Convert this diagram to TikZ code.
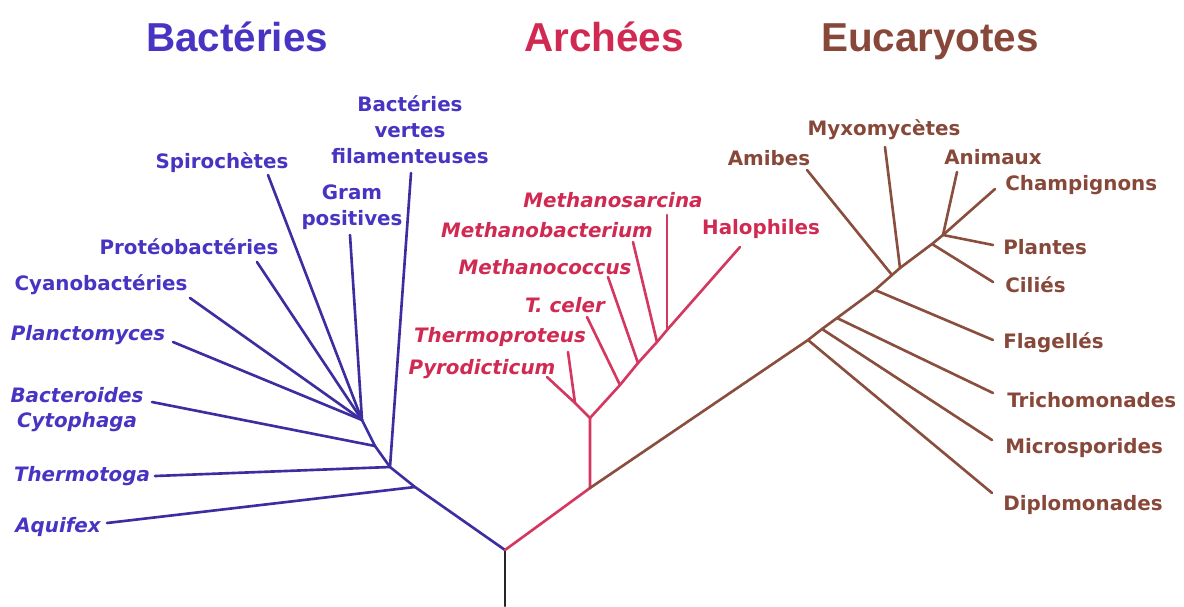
\documentclass[tikz,border=0pt]{standalone}
\usepackage{fontspec}
\setmainfont{DejaVu Sans}
\newfontfamily\titlefont{Liberation Sans}
\usetikzlibrary{calc}
\definecolor{bacText}{RGB}{72,52,195}
\definecolor{bacLine}{RGB}{60,46,160}
\definecolor{arcText}{RGB}{208,42,82}
\definecolor{arcLine}{RGB}{212,55,95}
\definecolor{eukText}{RGB}{135,72,58}
\definecolor{eukLine}{RGB}{138,78,62}
\tikzset{
  treefig/.style={x=0.02cm, y=-0.02cm, line cap=round, line join=round},
  title/.style={font=\titlefont\bfseries\fontsize{23}{26}\selectfont, anchor=base},
  lab/.style={font=\bfseries\fontsize{11.3}{14.7}\selectfont, inner sep=0pt, align=center},
  itlab/.style={lab, font=\bfseries\itshape\fontsize{11.3}{14.2}\selectfont},
  bac/.style={draw=bacLine, line width=1.5pt},
  arc/.style={draw=arcLine, line width=1.5pt},
  euk/.style={draw=eukLine, line width=1.5pt},
}

\begin{document}
\begin{tikzpicture}[treefig]
  \useasboundingbox (0,0) rectangle (1184,606);

  % ----- domain titles -----
  \node[title, text=bacText] (tBac) at (237,51) {Bactéries};
  \node[title, text=arcText] (tArc) at (604,51) {Archées};
  \node[title, text=eukText] (tEuk) at (930,51) {Eucaryotes};

  % ----- root -----
  \coordinate (root) at (505,550);
  \coordinate (base) at (505,606);
  \draw[line width=1.5pt, black!85] (base) -- (root);

  % ----- bacteria: junctions and tips -----
  \coordinate (bA) at (415,487);
  \coordinate (bB) at (390,467);
  \coordinate (bC) at (375,446);
  \coordinate (bD) at (362,420);
  \coordinate (pVer) at (411,173);
  \coordinate (pGram) at (350,235);
  \coordinate (pSpi) at (268,175);
  \coordinate (pPro) at (257,262);
  \coordinate (pCya) at (190,298);
  \coordinate (pPla) at (173,342);
  \coordinate (pBct) at (152,402);
  \coordinate (pThg) at (155,476);
  \coordinate (pAqu) at (107,523);

  \draw[bac] (root) -- (bA) -- (bB) -- (bC) -- (bD);
  \draw[bac] (bA) -- (pAqu);
  \draw[bac] (bB) -- (pThg);
  \draw[bac] (bB) -- (pVer);
  \draw[bac] (bC) -- (pBct);
  \foreach \tip in {pGram, pSpi, pPro, pCya, pPla}
    \draw[bac] (bD) -- (\tip);

  \node[lab, text=bacText] (lVer) at (410,130) {Bactéries\\vertes\\filamenteuses};
  \node[lab, text=bacText] (lGram) at (352,207) {Gram\\positives};
  \node[lab, text=bacText] (lSpi) at (222,163) {Spirochètes};
  \node[lab, text=bacText] (lPro) at (189,247) {Protéobactéries};
  \node[lab, text=bacText] (lCya) at (101,285) {Cyanobactéries};
  \node[itlab, text=bacText] (lPla) at (88,335) {Planctomyces};
  \node[itlab, text=bacText] (lBct) at (77,410) {Bacteroides\\Cytophaga};
  \node[itlab, text=bacText] (lThg) at (82,476) {Thermotoga};
  \node[itlab, text=bacText] (lAqu) at (58,527) {Aquifex};

  % ----- archaea: junctions and tips -----
  \coordinate (aR) at (590,488);
  \coordinate (aA) at (590,418);
  \coordinate (aB) at (575,403);
  \coordinate (aC) at (620,385);
  \coordinate (aD) at (638,363);
  \coordinate (aE) at (657,342);
  \coordinate (aF) at (667,330);
  \coordinate (pPyr) at (547,377);
  \coordinate (pTpr) at (568,352);
  \coordinate (pTce) at (587,317);
  \coordinate (pMco) at (608,277);
  \coordinate (pMba) at (633,242);
  \coordinate (pMsa) at (667,215);
  \coordinate (pHal) at (740,247);

  \draw[arc] (root) -- (aR) -- (aA) -- (aB) -- (pPyr);
  \draw[arc] (aB) -- (pTpr);
  \draw[arc] (aA) -- (aC) -- (aD) -- (aE) -- (aF) -- (pHal);
  \draw[arc] (aC) -- (pTce);
  \draw[arc] (aD) -- (pMco);
  \draw[arc] (aE) -- (pMba);
  \draw[arc] (aF) -- (pMsa);

  \node[itlab, text=arcText] (lMsa) at (613,200) {Methanosarcina};
  \node[itlab, text=arcText] (lMba) at (547,230) {Methanobacterium};
  \node[itlab, text=arcText] (lMco) at (545,267) {Methanococcus};
  \node[itlab, text=arcText] (lTce) at (565,305) {T. celer};
  \node[itlab, text=arcText] (lTpr) at (500,337) {Thermoproteus};
  \node[itlab, text=arcText] (lPyr) at (482,369) {Pyrodicticum};
  \node[lab, text=arcText] (lHal) at (761,229) {Halophiles};

  % ----- eukaryotes: junctions and tips -----
  \coordinate (e1) at (808,340);
  \coordinate (e2) at (822,329);
  \coordinate (e3) at (837,318);
  \coordinate (e4) at (875,290);
  \coordinate (e5) at (892,275);
  \coordinate (e6) at (900,268);
  \coordinate (e7) at (932,244);
  \coordinate (e8) at (943,235);
  \coordinate (pDip) at (992,493);
  \coordinate (pMic) at (992,440);
  \coordinate (pTri) at (993,393);
  \coordinate (pFla) at (993,340);
  \coordinate (pAmi) at (807,170);
  \coordinate (pMyx) at (885,147);
  \coordinate (pCil) at (993,282);
  \coordinate (pPla2) at (993,245);
  \coordinate (pAni) at (957,172);
  \coordinate (pCha) at (995,189);

  \draw[euk] (aR) -- (e1) -- (e2) -- (e3) -- (e4) -- (e5) -- (e6) -- (e7) -- (e8) -- (pCha);
  \draw[euk] (e1) -- (pDip);
  \draw[euk] (e2) -- (pMic);
  \draw[euk] (e3) -- (pTri);
  \draw[euk] (e4) -- (pFla);
  \draw[euk] (e5) -- (pAmi);
  \draw[euk] (e6) -- (pMyx);
  \draw[euk] (e7) -- (pCil);
  \draw[euk] (e8) -- (pPla2);
  \draw[euk] (e8) -- (pAni);

  \node[lab, text=eukText] (lAmi) at (769,158) {Amibes};
  \node[lab, text=eukText] (lMyx) at (884,130) {Myxomycètes};
  \node[lab, text=eukText] (lAni) at (993,157) {Animaux};
  \node[lab, text=eukText, anchor=west] (lCha) at (1005,185) {Champignons};
  \node[lab, text=eukText, anchor=west] (lPla2) at (1003,247) {Plantes};
  \node[lab, text=eukText, anchor=west] (lCil) at (1005,285) {Ciliés};
  \node[lab, text=eukText, anchor=west] (lFla) at (1003,343) {Flagellés};
  \node[lab, text=eukText, anchor=west] (lTri) at (1007,400) {Trichomonades};
  \node[lab, text=eukText, anchor=west] (lMic) at (1005,448) {Microsporides};
  \node[lab, text=eukText, anchor=west] (lDip) at (1003,505) {Diplomonades};
\end{tikzpicture}
\end{document}
